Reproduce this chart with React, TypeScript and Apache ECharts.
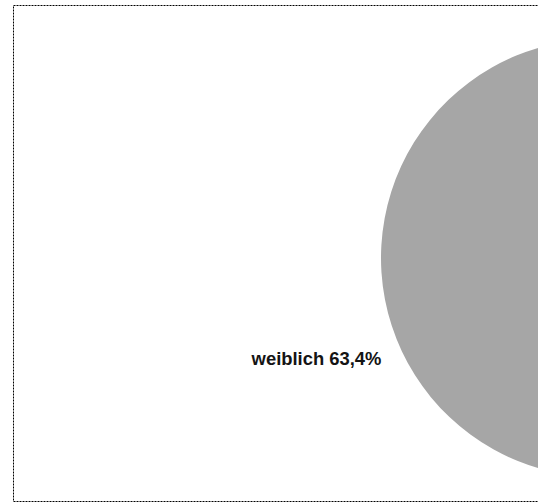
import React, { useEffect, useRef } from "react";
import * as echarts from "echarts";

const categories = ["weiblich", "männlich"];
const shares = [63.4, 36.6];
const sliceColors = ["#a6a6a6", "#d9d9d9"];

export default function App() {
  const ref = useRef<HTMLDivElement>(null);
  useEffect(() => {
    if (!ref.current) return;
    const chart = echarts.init(ref.current, null, { renderer: "svg" });
    chart.setOption({
      animation: false,
      backgroundColor: "#ffffff",
      graphic: [
        {
          type: "rect",
          shape: { x: 13.5, y: 5.5, width: 560, height: 496 },
          style: { fill: "none", stroke: "#000000", lineWidth: 1, lineDash: [2, 1] },
          silent: true,
          z: 0,
        },
      ],
      series: [
        {
          type: "pie",
          center: [600, 258],
          radius: 219,
          startAngle: -40.7,
          clockwise: true,
          avoidLabelOverlap: false,
          silent: true,
          label: {
            show: true,
            position: "outside",
            formatter: (p: any) =>
              `${p.name} ${p.value.toFixed(1).replace(".", ",")}%`,
            fontFamily: "Liberation Sans, Arial, sans-serif",
            fontWeight: "bold",
            fontSize: 18.4,
            color: "#141414",
          },
          labelLine: { show: false, length: 17, length2: 0 },
          itemStyle: { borderWidth: 0 },
          data: categories.map((c, i) => ({
            name: c,
            value: shares[i],
            itemStyle: { color: sliceColors[i] },
            label: { show: i === 0 },
          })),
        },
      ],
    });
    return () => chart.dispose();
  }, []);
  return (
    <div
      ref={ref}
      style={{ position: "absolute", left: 0, top: 0, width: 538, height: 504 }}
    />
  );
}
